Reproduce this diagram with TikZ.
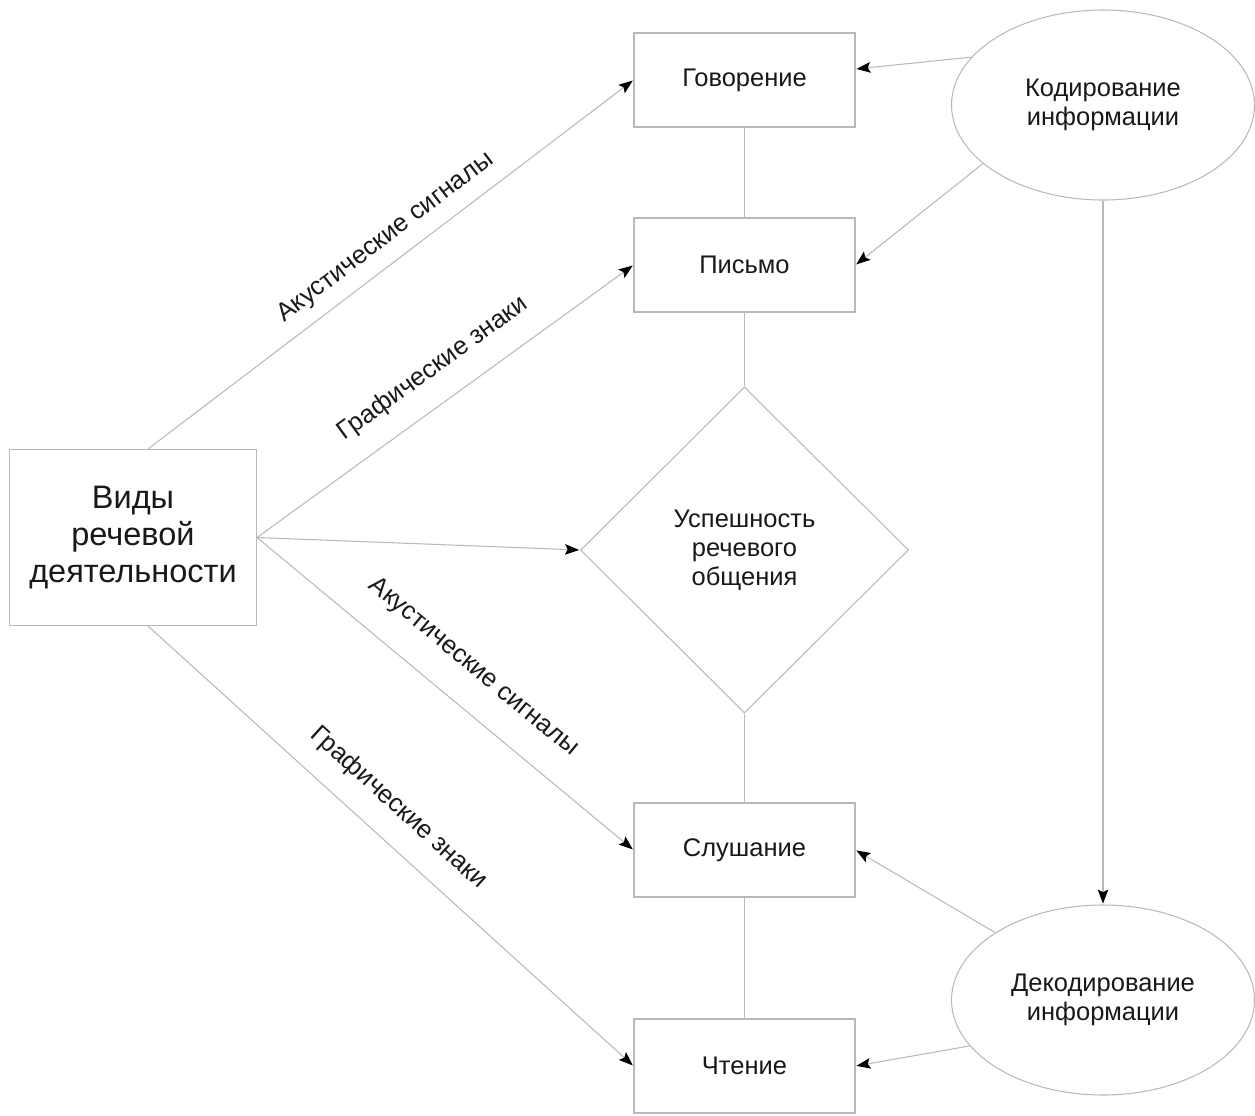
\documentclass[tikz,border=0pt]{standalone}
\usepackage{fontspec}
\setmainfont{Liberation Sans}
\usetikzlibrary{arrows.meta,positioning,shapes.geometric}

\begin{document}
\begin{tikzpicture}[->,>={Stealth[length=8pt,width=6pt,inset=1.5pt,black]},shorten >=0.5pt,semithick,node distance=3.7cm,font=\fontsize{14.5}{16.5}\selectfont]
        \tikzset{box/.style={draw=gray!55,fill=white,text=black!90,minimum width=4.42cm,minimum height=1.88cm,align=center,inner sep=0pt},
            oval/.style={ellipse,draw=gray!55,text=black!90,minimum width=6.06cm,minimum height=3.8cm,align=center,inner sep=0pt},
            rhomb/.style={diamond,draw=gray!55,text=black!90,minimum width=6.56cm,minimum height=6.52cm,align=center,inner sep=0pt},
            link/.style={draw=gray!55},
            lbl/.style={sloped,text=black!90,inner sep=0pt}}
        \useasboundingbox (0,0) rectangle (25.1,-22.3);
        \node[box,minimum width=4.94cm,minimum height=3.52cm,font=\fontsize{18.5}{21}\selectfont] (vid) at (2.66,-10.75) {Виды\\речевой\\деятельности};
        \node[box] (gov) at (14.89,-1.6) {Говорение};
        \node[box] (pis) [below of=gov] {Письмо};
        \node[rhomb] (usp) [below of=pis,node distance=5.7cm] {Успешность\\речевого\\общения};
        \node[box] (slu) [below of=usp,node distance=6cm] {Слушание};
        \node[box] (cht) [below of=slu,node distance=4.32cm] {Чтение};
        \node[oval] (kod) at (22.06,-2.1) {Кодирование\\информации};
        \node[oval] (dek) [below of=kod,node distance=17.9cm] {Декодирование\\информации};
    % column of boxes
    \path[link,-]
        (gov) edge (pis)
        (pis) edge (usp)
        (usp) edge (slu)
        (slu) edge (cht);
    % from the left box
    \draw[link] ([xshift=0.3cm]vid.north) -- node[lbl,above=7pt,pos=0.52] {Акустические сигналы} (gov.west);
    \draw[link] (vid.east) -- node[lbl,above=12pt,pos=0.52] {Графические знаки} (pis.west);
    \draw[link] (vid.east) -- (usp.west);
    \draw[link] (vid.east) -- node[lbl,above=15pt,pos=0.51] {Акустические сигналы} (slu.west);
    \draw[link] ([xshift=0.3cm]vid.south) -- node[lbl,above=12pt,pos=0.47] {Графические знаки} (cht.west);
    % from the ovals
    \draw[link] (kod.160) -- ([yshift=0.22cm]gov.east);
    \draw[link] (kod.206) -- (pis.east);
    \draw[link] (kod) -- (dek);
    \draw[link] (dek.148) -- (slu.east);
    \draw[link] (dek.199) -- (cht.east);
\end{tikzpicture}
\end{document}
